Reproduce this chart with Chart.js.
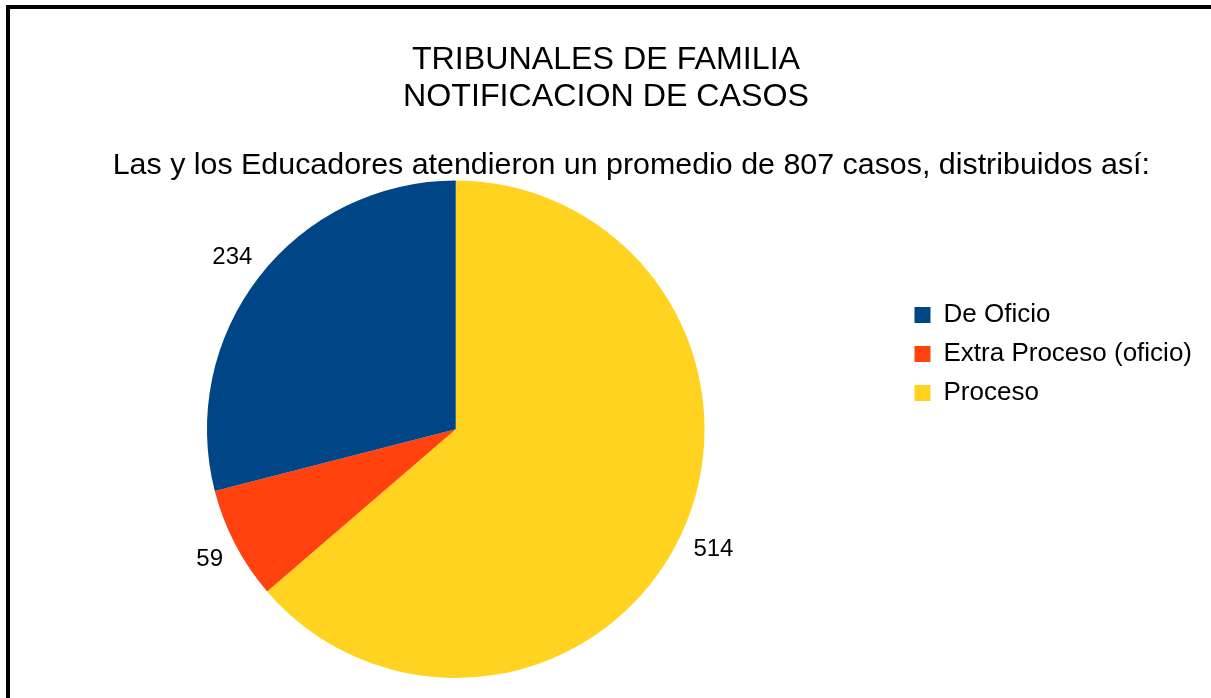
<!DOCTYPE html>
<html>
<head>
<meta charset="utf-8">
<script src="https://cdn.jsdelivr.net/npm/chart.js"></script>
<style>
  html, body { margin: 0; padding: 0; background: #fff; overflow: hidden; }
  #wrap { position: relative; width: 1211px; height: 698px; }
  #frame {
    position: absolute; left: 6px; top: 5px; width: 1300px; height: 800px;
    border-left: 4px solid #000; border-top: 4px solid #000;
    pointer-events: none;
  }
  canvas { position: absolute; left: 0; top: 0; }
</style>
</head>
<body>
<div id="wrap">
  <canvas id="pieChart" width="1211" height="698"></canvas>
  <div id="frame"></div>
</div>
<script>
// datos del grafico (orden de dibujo: horario desde arriba)
const categorias = ["Proceso", "Extra Proceso (oficio)", "De Oficio"];
const casos = [514, 59, 234];
const colores = ["#ffd320", "#ff420e", "#004586"];
const titulo = ["TRIBUNALES DE FAMILIA", "NOTIFICACION DE CASOS"];
const subtitulo = "Las y los Educadores atendieron un promedio de 807 casos, distribuidos así:";

const FONT = "'Liberation Sans', Arial, sans-serif";

// etiquetas de valor fuera de cada sector
const valueLabels = {
  id: "valueLabels",
  afterDatasetsDraw(chart) {
    const ctx = chart.ctx;
    const meta = chart.getDatasetMeta(0);
    ctx.save();
    ctx.font = "24px " + FONT;
    ctx.fillStyle = "#000";
    ctx.textAlign = "center";
    ctx.textBaseline = "alphabetic";
    meta.data.forEach((arc, i) => {
      const p = arc.getProps(["x", "y", "startAngle", "endAngle", "outerRadius"], true);
      const mid = (p.startAngle + p.endAngle) / 2;
      const txt = String(chart.data.datasets[0].data[i]);
      const w = ctx.measureText(txt).width;
      const h = 17;
      const ext = Math.abs(Math.cos(mid)) * w / 2 + Math.abs(Math.sin(mid)) * h / 2;
      const r = p.outerRadius + 13 + ext;
      const x = p.x + Math.cos(mid) * r;
      const y = p.y + Math.sin(mid) * r;
      ctx.fillText(txt, x, y + h / 2);
    });
    ctx.restore();
  },
};

const ctx = document.getElementById("pieChart").getContext("2d");
new Chart(ctx, {
  type: "pie",
  data: {
    labels: categorias,
    datasets: [
      {
        data: casos,
        backgroundColor: colores,
        borderWidth: 0,
        hoverOffset: 0,
      },
    ],
  },
  options: {
    responsive: false,
    animation: false,
    events: [],
    layout: { padding: { left: 10, right: 9, top: 0, bottom: 20 } },
    plugins: {
      title: {
        display: true,
        text: titulo,
        color: "#000",
        font: { family: FONT, size: 32.2, weight: "normal", lineHeight: 1.15 },
        padding: { top: 42, bottom: 0 },
      },
      subtitle: {
        display: true,
        // espacios iniciales para centrar como el original
        text: "\u00a0\u00a0\u00a0\u00a0\u00a0\u00a0" + subtitulo,
        color: "#000",
        font: { family: FONT, size: 30.4, weight: "normal", lineHeight: 1.0 },
        padding: { top: 34, bottom: 0 },
      },
      legend: {
        position: "right",
        align: "start",
        reverse: true,
        title: { display: true, text: " ", font: { size: 10, lineHeight: 1 }, padding: { top: 279, bottom: 0 } },
        labels: {
          color: "#000",
          boxWidth: 16,
          boxHeight: 16,
          padding: 13,
          font: { family: FONT, size: 26 },
        },
      },
      tooltip: { enabled: false },
    },
  },
  plugins: [valueLabels],
});
</script>
</body>
</html>
